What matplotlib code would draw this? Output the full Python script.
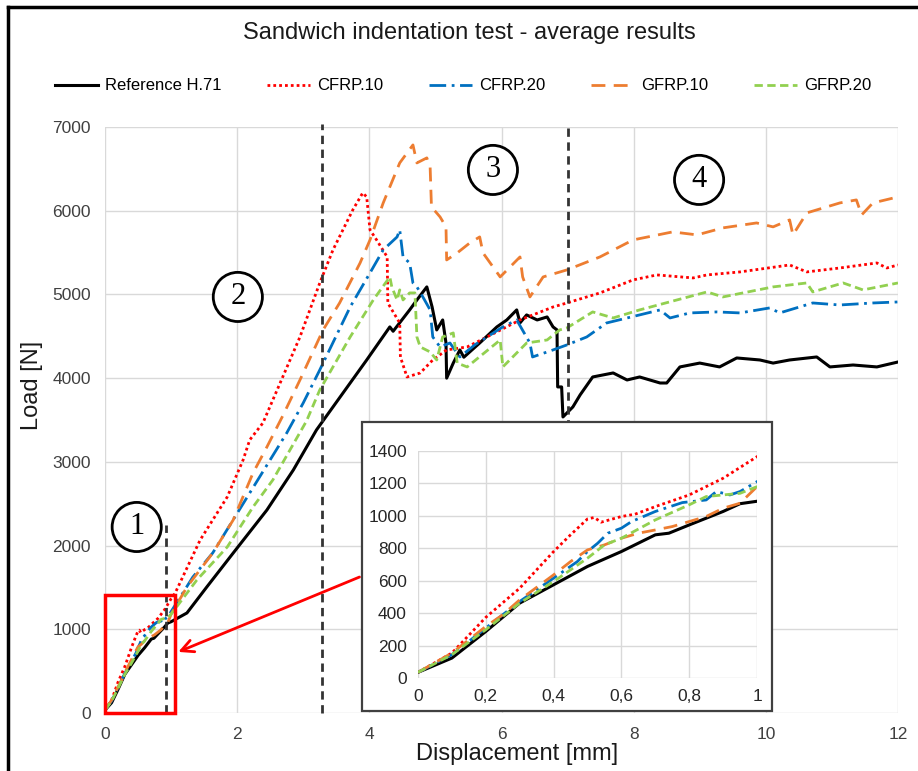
import matplotlib
matplotlib.use("Agg")
import matplotlib.pyplot as plt
from matplotlib.patches import Rectangle
from matplotlib.lines import Line2D

# ---------------- data ----------------
ref_x = [0, 0.1, 0.2, 0.3, 0.4, 0.5, 0.6, 0.7, 0.74, 0.8, 0.9, 0.95, 1.0,
         1.24, 1.54, 1.94, 2.45, 2.85, 3.2, 3.96, 4.31, 4.36, 4.61, 4.72, 4.87, 4.95, 5.02,
         5.11, 5.16, 5.17, 5.27, 5.37, 5.43, 5.67, 5.93, 6.08, 6.23, 6.28, 6.38, 6.54,
         6.69, 6.78, 6.84, 6.85, 6.91, 6.93, 7.08, 7.19, 7.38, 7.69, 7.90, 8.09, 8.40,
         8.50, 8.70, 9.00, 9.30, 9.56, 9.91, 10.11, 10.36, 10.77, 10.97, 11.32, 11.68, 12.0]
ref_y = [35, 123, 287, 462, 575, 688, 780, 883, 893, 944, 1027, 1075, 1090,
         1195, 1505, 1911, 2425, 2903, 3381, 4217, 4612, 4560, 4815, 4934, 5090, 4850, 4576,
         4695, 4420, 4000, 4180, 4337, 4250, 4420, 4612, 4695, 4815, 4660, 4755, 4695,
         4731, 4612, 4576, 3895, 3895, 3536, 3656, 3800, 4014, 4062, 3978, 4014, 3942,
         3942, 4134, 4180, 4134, 4241, 4217, 4180, 4217, 4253, 4134, 4157, 4134, 4193]

c10_x = [0, 0.1, 0.2, 0.3, 0.4, 0.45, 0.5, 0.52, 0.54, 0.6, 0.64, 0.7, 0.8, 0.9, 1.0,
         1.06, 1.44, 1.85, 2.09, 2.19, 2.39, 2.95, 3.25, 3.45, 3.75, 3.90, 3.96, 4.01,
         4.11, 4.27, 4.28, 4.36, 4.46, 4.47, 4.57, 4.77, 4.96, 5.17, 5.48, 5.78, 6.28,
         6.78, 6.99, 7.49, 7.99, 8.35, 8.90, 9.11, 9.61, 10.36, 10.62, 11.12, 11.68,
         11.83, 12.0]
c10_y = [35, 154, 374, 554, 780, 883, 981, 990, 961, 996, 1010, 1057, 1129, 1232, 1365,
         1430, 2067, 2581, 3023, 3262, 3465, 4492, 5137, 5532, 6010, 6213, 6165, 5771,
         5651, 5448, 4898, 4791, 4659, 4253, 4014, 4062, 4217, 4337, 4373, 4492, 4695,
         4850, 4898, 5018, 5173, 5233, 5197, 5233, 5269, 5352, 5269, 5316, 5376,
         5316, 5352]

c20_x = [0, 0.1, 0.2, 0.3, 0.4, 0.47, 0.5, 0.53, 0.56, 0.6, 0.63, 0.7, 0.78, 0.85,
         0.88, 0.92, 0.95, 1.0,
         1.33, 1.63, 2.19, 2.75, 3.0, 3.25, 3.71, 4.01, 4.21, 4.42, 4.46, 4.51, 4.61,
         4.66, 4.72, 4.81, 4.92, 4.96, 5.07, 5.22, 5.37, 5.6, 6.02, 6.23, 6.43, 6.47,
         6.78, 6.99, 7.29, 7.59, 8.40, 8.55, 8.85, 9.26, 9.61, 10.06, 10.21, 10.71,
         11.12, 11.62, 12.0]
c20_y = [35, 144, 308, 472, 616, 718, 780, 831, 893, 924, 965, 1027, 1082, 1098,
         1150, 1129, 1150, 1211,
         1625, 1912, 2628, 3345, 3704, 4098, 4850, 5257, 5532, 5687, 5771, 5448, 5376,
         5137, 5090, 4970, 4815, 4492, 4373, 4420, 4253, 4400, 4612, 4695, 4420, 4253,
         4337, 4397, 4492, 4659, 4815, 4719, 4779, 4791, 4779, 4839, 4779, 4898,
         4874, 4898, 4910]

g10_x = [0, 0.1, 0.2, 0.25, 0.3, 0.4, 0.45, 0.5, 0.55, 0.6, 0.65, 0.7, 0.75, 0.8,
         0.85, 0.9, 0.95, 1.0,
         1.24, 1.63, 1.94, 2.24, 2.45, 2.69, 2.95, 3.30, 3.55, 3.86, 4.01, 4.21, 4.46, 4.66,
         4.72, 4.87, 4.92, 4.94, 5.07, 5.16, 5.17, 5.33, 5.52, 5.67, 5.72, 5.98, 6.28,
         6.32, 6.43, 6.63, 6.99, 7.49, 7.99, 8.59, 8.96, 9.35, 9.86, 10.11, 10.36,
         10.41, 10.62, 11.12, 11.37, 11.45, 11.62, 12.0]
g10_y = [35, 154, 318, 390, 482, 636, 718, 790, 821, 862, 893, 913, 934, 965,
         996, 1047, 1078, 1180,
         1505, 1911, 2306, 2867, 3178, 3550, 3978, 4576, 4898, 5376, 5651, 6093, 6571, 6786,
         6571, 6631, 6523, 6046, 5926, 5807, 5412, 5496, 5615, 5687, 5496, 5209, 5448,
         5209, 4970, 5209, 5293, 5448, 5651, 5747, 5711, 5795, 5854, 5807, 5890,
         5711, 5974, 6093, 6129, 5950, 6093, 6165]

g20_x = [0, 0.1, 0.2, 0.3, 0.4, 0.5, 0.55, 0.6, 0.7, 0.8, 0.85, 0.9, 0.95, 1.0,
         1.39, 1.85, 2.24, 2.54, 3.05, 3.25, 3.71, 4.06, 4.31, 4.34, 4.42, 4.46, 4.51,
         4.61, 4.69, 4.72, 4.77, 4.92, 5.02, 5.11, 5.27, 5.33, 5.48, 5.98, 6.02, 6.17,
         6.38, 6.69, 6.88, 6.99, 7.38, 7.69, 8.09, 9.11, 9.35, 10.11, 10.62, 10.71,
         11.17, 11.47, 12.0]
g20_y = [35, 144, 298, 462, 595, 739, 821, 862, 975, 1068, 1119, 1129, 1139, 1180,
         1589, 1983, 2461, 2784, 3489, 3859, 4492, 4934, 5209, 5090, 4934, 5054, 4934,
         5018, 5018, 4492, 4373, 4313, 4217, 4492, 4540, 4180, 4134, 4456, 4134, 4253,
         4420, 4456, 4576, 4600, 4791, 4719, 4815, 5030, 4970, 5090, 5137, 5030,
         5137, 5054, 5137]

series_labels = ["Reference H.71", "CFRP.10", "CFRP.20", "GFRP.10", "GFRP.20"]
main_xticks = [0, 2, 4, 6, 8, 10, 12]
main_yticks = [0, 1000, 2000, 3000, 4000, 5000, 6000, 7000]
inset_xticks = [0, 0.2, 0.4, 0.6, 0.8, 1.0]
inset_xticklabels = ["0", "0,2", "0,4", "0,6", "0,8", "1"]
inset_yticks = [0, 200, 400, 600, 800, 1000, 1200, 1400]
phase_x = [0.92, 3.29, 7.0]
phase_labels = ["1", "2", "3", "4"]
phase_pos = [(0.48, 2222), (2.01, 4970), (5.87, 6487), (8.99, 6368)]
title = "Sandwich indentation test - average results"

# ---------------- style ----------------
plt.rcParams["font.family"] = ["Liberation Sans", "DejaVu Sans"]

colors = ["black", "#FF0000", "#0070C0", "#ED7D31", "#92D050"]
styles = ["-", (0, (1, 1.1)), (0, (6, 2, 1, 2)), (0, (5, 3)), (0, (3, 1.6))]
xs = [ref_x, c10_x, c20_x, g10_x, g20_x]
ys = [ref_y, c10_y, c20_y, g10_y, g20_y]
tick_col = "#404040"
grid_col = "#D9D9D9"

W, H = 918, 771
fig = plt.figure(figsize=(W / 100, H / 100), dpi=100)

def fx(px):
    return px / W

def fy(py):
    return 1 - py / H

ax = fig.add_axes([fx(105), fy(713), fx(898) - fx(105), fy(127) - fy(713)])
ax.set_xlim(0, 12)
ax.set_ylim(0, 7000)
for s in ax.spines.values():
    s.set_visible(False)
ax.set_xticks(main_xticks)
ax.set_yticks(main_yticks)
ax.grid(True, color=grid_col, lw=1)
ax.set_axisbelow(True)
ax.tick_params(length=0, labelsize=12.5, labelcolor=tick_col, pad=10)

handles = []
for x, y, c, ls, lab in zip(xs, ys, colors, styles, series_labels):
    lw = 2.2 if c == "black" else 2.0
    h, = ax.plot(x, y, color=c, ls=ls, lw=lw, label=lab, zorder=3)
    handles.append(h)

ax.set_xlabel("Displacement [mm]", fontsize=17, color="#1a1a1a")
ax.set_ylabel("Load [N]", fontsize=17, color="#1a1a1a")
ax.xaxis.set_label_coords((517 - 105) / 793, -(743 - 713) / 586)
ax.yaxis.set_label_coords(-(105 - 43) / 793, (713 - 385) / 586)

# phase separators
dash = (0, (3, 2))
ax.plot([phase_x[0]] * 2, [0, 2250], color="#333333", ls=dash, lw=2, zorder=4)
ax.plot([phase_x[1]] * 2, [0, 7040], color="#333333", ls=dash, lw=2, zorder=4, clip_on=False)
ax.plot([phase_x[2]] * 2, [3400, 7040], color="#333333", ls=dash, lw=2, zorder=4, clip_on=False)

for lab, (px, py) in zip(phase_labels, phase_pos):
    ax.text(px, py, lab, fontsize=22, family="Liberation Serif", ha="center", va="center",
            zorder=6,
            bbox=dict(boxstyle="circle,pad=0.33", fc="white", ec="black", lw=2))

# zoom rectangle and arrow
ax.add_patch(Rectangle((0, 0), 1.06, 1410, fill=False, ec="#FF0000", lw=2.5,
                       clip_on=False, zorder=7))
ax.annotate("", xy=(1.07, 717), xytext=(3.89, 1637),
            arrowprops=dict(arrowstyle="->", color="#FF0000", lw=2, mutation_scale=22),
            zorder=7)

# inset frame
fig.add_artist(Rectangle((fx(362), fy(711)), fx(772) - fx(362), fy(422) - fy(711),
                         transform=fig.transFigure, fc="white", ec="#404040", lw=1.6,
                         zorder=2))
axi = fig.add_axes([fx(418), fy(678), fx(757) - fx(418), fy(451) - fy(678)])
axi.set_zorder(3)
axi.set_xlim(0, 1)
axi.set_ylim(0, 1400)
for s in axi.spines.values():
    s.set_visible(False)
axi.set_xticks(inset_xticks)
axi.set_xticklabels(inset_xticklabels)
axi.set_yticks(inset_yticks)
axi.grid(True, color=grid_col, lw=1)
axi.set_axisbelow(True)
axi.tick_params(length=0, labelsize=12.5, labelcolor="#262626", pad=8)
for x, y, c, ls in zip(xs, ys, colors, styles):
    lw = 2.2 if c == "black" else 2.0
    axi.plot(x, y, color=c, ls=ls, lw=lw, zorder=3)

# title and legend
fig.text(fx(469), fy(33), title, ha="center", va="center", fontsize=17,
         color="#1a1a1a")
fig.legend(handles=handles, labels=series_labels, loc="center",
           bbox_to_anchor=(fx(463), fy(86)), ncol=5, frameon=False,
           prop={"size": 12}, handlelength=2.6,
           handletextpad=0.4, columnspacing=2.75)

# outer frame (top and left edges visible)
fig.add_artist(Line2D([fx(8), 1], [fy(7), fy(7)], transform=fig.transFigure,
                      color="black", lw=2.5))
fig.add_artist(Line2D([fx(8), fx(8)], [0, fy(7)], transform=fig.transFigure,
                      color="black", lw=2.5))

fig.savefig("out.png", dpi=100)
